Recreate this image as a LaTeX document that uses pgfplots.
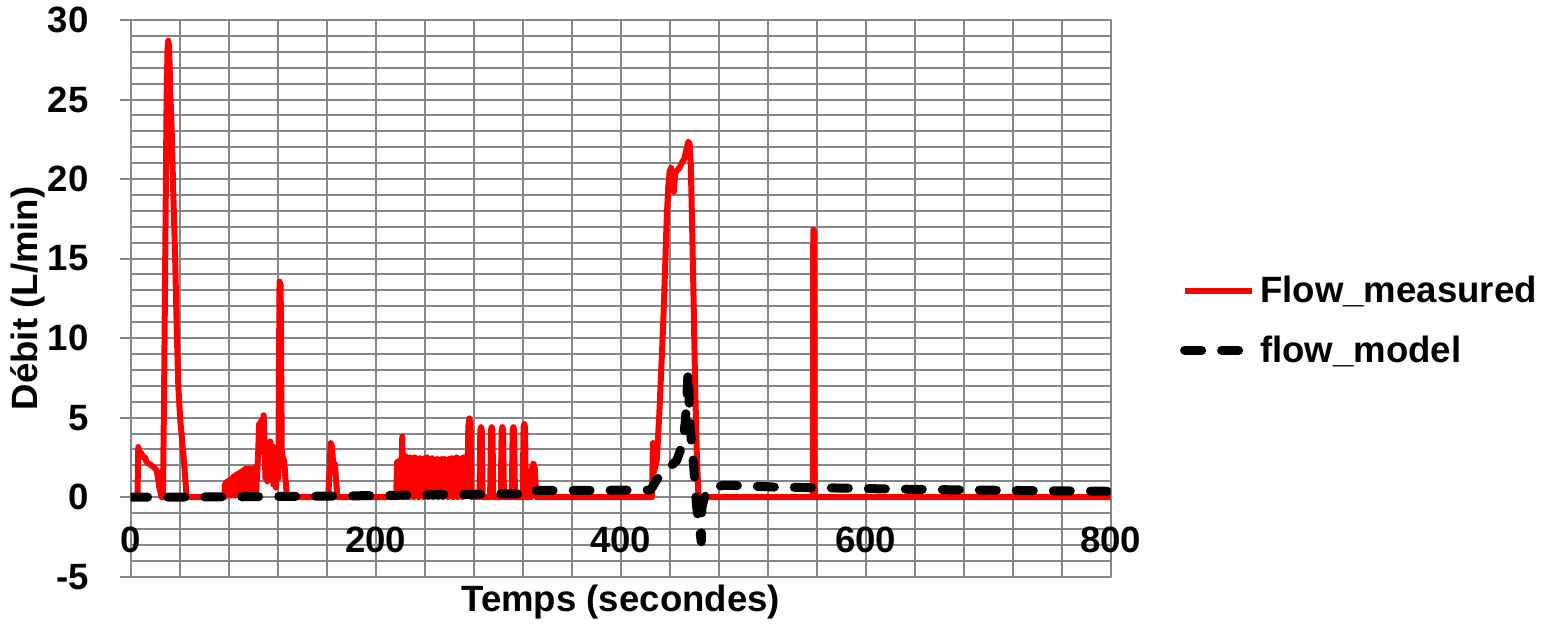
\documentclass[border=0pt]{standalone}
\usepackage{pgfplots}
\pgfplotsset{compat=1.18}
\usepackage{fontspec}
\setmainfont{Liberation Sans}
\definecolor{gridgray}{RGB}{134,134,134}
\definecolor{flowred}{RGB}{255,0,0}
\newcommand{\chartfont}{\fontsize{18.3}{22}\selectfont\bfseries}

\begin{document}
\begin{tikzpicture}
\begin{axis}[
  name=main,
  scale only axis,
  width=490pt, height=278.35pt,
  xmin=0, xmax=800, ymin=-5, ymax=30,
  xtick={0,200,...,800},
  xticklabels={0,200,400,600,800},
  ytick={-5,0,...,30},
  yticklabels={-5,0,5,10,15,20,25,30},
  minor x tick num=4,
  minor y tick num=4,
  grid=both,
  major grid style={gridgray, line width=1pt},
  minor grid style={gridgray, line width=1pt},
  axis line style={gridgray, line width=1pt},
  tick align=outside,
  major tick length=5.35pt,
  minor tick length=0pt,
  xtick style={draw=none},
  ytick style={gridgray, line width=1pt},
  ytick pos=left, xtick pos=bottom,
  ticklabel style={font=\chartfont},
  xticklabel style={anchor=center, yshift=23.85pt},
  yticklabel style={anchor=east, inner sep=0pt, xshift=-15.5pt},
  xlabel={Temps (secondes)},
  ylabel={Débit (L/min)},
  label style={font=\chartfont},
  xlabel style={at={(axis description cs:0.5,0)}, anchor=center, yshift=-12.65pt},
  ylabel style={at={([xshift=-51.35pt]axis description cs:0,0.5)}, anchor=center},
  legend cell align=left,
  legend style={draw=none, fill=none, at={(axis description cs:1,0.46)}, anchor=west,
    xshift=34.5pt, inner sep=0pt, font=\chartfont, row sep=11pt,
    /tikz/every even column/.append style={column sep=4pt}},
  legend image code/.code={\draw[#1] (0pt,0pt) -- (33.5pt,0pt);},
  line join=round,
]
% Flow_measured
\addplot[flowred, line width=3pt, line join=round] coordinates {
(0,0) (5.5,0) (6.2,3.15) (7.5,2.7) (8.5,2.8) (10,2.5) (11.7,2.5) (13,2.2) (15,2.1) (17,2.0)
(18.5,1.9) (20,1.8) (21.2,1.7) (22.3,1.2) (23.4,0.6) (25.3,0) (26.3,0) (27.2,6) (28.3,16)
(29.3,25) (30.1,28.3) (30.7,28.7) (31.4,28.3) (32.3,25.5) (33.4,23.2) (34.8,19) (36.2,15.3)
(37.6,10.5) (38.9,6.9) (40.5,4.8) (43,2.7) (45.7,0)
(76.5,0) (77,0.8) (77.5,0.1) (78,0.9) (78.5,0.2) (79,1.0) (79.5,0.1) (80,0.9) (80.5,0.3)
(81,1.1) (81.5,0.1) (82,1.0) (82.5,0.4) (83,1.2) (83.5,0.2) (84,1.3) (84.5,0.3) (85,1.2)
(85.5,0.1) (86,1.4) (86.5,0.5) (87,1.3) (87.5,0.2) (88,1.5) (88.5,0.6) (89,1.4) (89.5,0.2)
(90,1.6) (90.5,0.7) (91,1.5) (91.5,0.3) (92,1.7) (92.5,0.6) (93,1.6) (93.5,0.2) (94,1.8)
(94.5,0.8) (95,1.7) (95.5,0.3) (96,1.8) (96.5,0.9) (97,1.7) (97.5,0.4) (98,1.8) (98.5,0.2)
(99,1.6) (99.5,0.8) (100,1.7) (100.5,0.3) (101,1.8) (101.5,0.5) (102,1.9) (102.5,0.4)
(104,2.6) (104.8,4.6) (105.5,2.8) (106.5,4.8) (107.3,3.0) (108.5,5.15) (109.3,3.5) (110,1.2)
(110.8,2.8) (111.5,1.0) (112.3,3.4) (113,1.8) (114,3.5) (115,2.2) (115.8,3.2) (116.5,0.8)
(117.5,1.5) (118.5,0.6) (119.5,1.8) (120.5,1.2) (121.5,13.55) (122.4,13.3) (123.3,3.0)
(124.2,2.5) (125.3,2.3) (126.3,1.2) (127.5,0)
(161.3,0) (163.3,3.4) (164.3,3.2) (165.3,2.1) (166.7,2.1) (168.7,0)
(216.7,0) (217.5,2.2) (218.5,0) (219.5,2.3) (220.5,0.2) (221.7,3.8) (222.7,0) (224,2.6)
(225,0.1) (226,2.5) (227,0) (228,2.5) (229,0.2) (230,2.45) (231,0) (232,2.5) (233,0.1)
(234,2.4) (235,0) (236,2.45) (237,0.2) (238,2.4) (239,0) (240,2.45) (241,0.1) (242,2.5)
(243,0) (244,2.4) (245,0.2) (246,2.45) (247,0) (248,2.35) (249,0.1) (250,2.4) (251,0)
(252,2.35) (253,0.2) (254,2.4) (255,0) (256,2.4) (257,0.1) (258,2.35) (259,0) (260,2.4)
(261,0.2) (262,2.45) (263,0) (264,2.4) (265,0.1) (266,2.5) (267,0) (268,2.4) (269,0.2)
(270,2.45) (271,0) (272,2.5) (273,0.1) (274,2.45) (275,0.5) (275.6,4.5) (276.5,4.95)
(277.3,4.6) (278.2,0)
(284.7,0) (285.4,4.2) (286,4.4) (286.6,4.2) (287.3,0)
(293.4,0) (294.1,4.2) (294.7,4.4) (295.3,4.2) (296,0)
(302.1,0) (302.8,4.2) (303.4,4.4) (304,4.2) (304.7,0)
(311.1,0) (311.8,4.2) (312.4,4.4) (313,4.2) (313.7,0)
(320,0) (320.7,4.4) (321.3,4.6) (321.9,4.4) (322.6,0)
(326.8,0) (327.6,1.8) (328.7,2.1) (329.8,1.9) (330.6,0.8) (331.5,0)
(425.5,0) (426.3,3.4) (427.3,1.6) (429.5,2.4) (431.5,5.2) (433.2,8.2) (434.8,11.1)
(436.2,14.3) (437.5,17.4) (438.8,19.5) (440,20.5) (441.2,20.7) (442.4,19.6) (443.4,19.2)
(444.4,20.3) (445.7,20.5) (447.8,20.7) (449.8,21.0) (452,21.3) (453.8,21.9) (455.2,22.35)
(456.3,22.2) (457.2,21.0) (458.2,17.4) (459.3,13.2) (460.8,6.9) (462.2,2.5) (463.5,0)
(556.8,0) (557.2,16.8) (557.8,16.7) (558.3,0.8) (558.7,0)
(800,0)
};
\addlegendentry{Flow\_measured}
% flow_model
\addplot[black, line width=4.5pt, line cap=round, line join=round,
  dash pattern=on 8.5pt off 10pt] coordinates {
(0,0) (50,0.01) (100,0.03) (150,0.06) (200,0.1) (250,0.16) (300,0.2) (329,0.22) (331,0.42)
(380,0.43) (424,0.45) (426,0.65) (429,1.05) (432,1.35) (436.2,1.68) (440,1.9) (445.7,2.3)
(448.5,2.9) (451.1,3.6) (452.8,4.8) (454,6.3) (455,7.9) (455.8,6.2) (456.6,4.4) (458.4,3.0)
(459.6,1.9) (461,0.4) (462,-0.6) (464,-1.8) (465.8,-2.8) (466.2,-0.7) (468,-0.1) (471,0.4)
(475.6,0.63) (485,0.75) (500,0.72) (530,0.62) (560,0.6) (600,0.54) (650,0.48) (700,0.44)
(750,0.4) (800,0.37)
};
\addlegendentry{flow\_model}
\end{axis}
\path[use as bounding box] ([shift={(-65.35pt,-23.65pt)}]main.south west)
  rectangle ([shift={(222.65pt,10pt)}]main.north east);
\end{tikzpicture}
\end{document}
